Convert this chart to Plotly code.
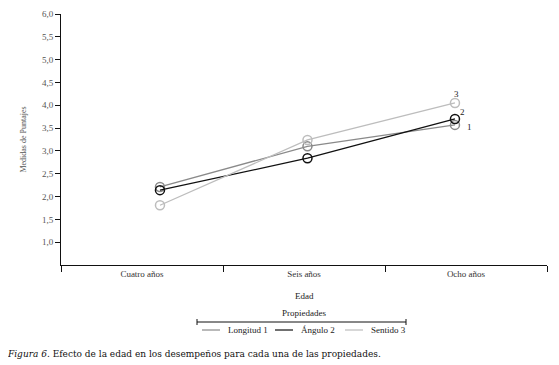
import plotly.graph_objects as go

categories = ["Cuatro años", "Seis años", "Ocho años"]
series_names = ["Longitud 1", "Ángulo 2", "Sentido 3"]
series_tags = ["1", "2", "3"]
longitud = [2.21, 3.10, 3.57]
angulo = [2.14, 2.84, 3.70]
sentido = [1.81, 3.24, 4.05]
y_ticks = [1.0, 1.5, 2.0, 2.5, 3.0, 3.5, 4.0, 4.5, 5.0, 5.5, 6.0]

colors = ["#8a8a8a", "#111111", "#bdbdbd"]
values = [longitud, angulo, sentido]
tag_shift = [(15, -2), (8, 7), (2, 9)]

OFF = 8  # page body margin
W, H = 559 - OFF, 365 - OFF
L, R, T, B = 61 - OFF, 12, 14 - OFF, 100
pw, ph = W - L - R, H - T - B

def px(x):
    return (x - OFF - L) / pw

def py(y):
    return (H - B - (y - OFF)) / ph

FONT = "Liberation Serif, Times New Roman, serif"
CAP_FONT = "DejaVu Serif, serif"

fig = go.Figure()
fig.add_trace(go.Scatter(x=[], y=[], xaxis="x", yaxis="y", showlegend=False, hoverinfo="skip"))
xi = list(range(len(categories)))
for name, vals, col in zip(series_names, values, colors):
    fig.add_trace(go.Scatter(
        x=xi, y=vals, name=name, mode="lines+markers", xaxis="x2", yaxis="y",
        line=dict(color=col, width=1.3),
        marker=dict(symbol="circle-open", size=9, color=col, line=dict(width=1.5, color=col)),
        showlegend=False,
    ))

annotations = []
for tag, vals, (dx, dy) in zip(series_tags, values, tag_shift):
    annotations.append(dict(x=xi[-1], y=vals[-1], xref="x2", yref="y", text=tag,
                            showarrow=False, xshift=dx, yshift=dy,
                            font=dict(family=FONT, size=9, color="#222")))

def label(x, y, text, xanchor="center", size=9, color="#222", family=FONT):
    annotations.append(dict(x=x, y=y, xref="paper", yref="paper", text=text,
                            showarrow=False, xanchor=xanchor, yanchor="middle",
                            font=dict(family=family, size=size, color=color)))

label(px(304), py(296), "Edad")
label(px(304), py(313), "Propiedades")

shapes = []
shapes.append(dict(type="line", xref="paper", yref="paper", x0=px(197), x1=px(406),
                   y0=py(322), y1=py(322), line=dict(color="#111", width=1)))
for xe in (197, 406):
    shapes.append(dict(type="line", xref="paper", yref="paper", x0=px(xe), x1=px(xe),
                       y0=py(319), y1=py(325), line=dict(color="#111", width=1)))
leg_x = [202, 275, 345]
for name, col, lx in zip(series_names, colors, leg_x):
    shapes.append(dict(type="line", xref="paper", yref="paper", x0=px(lx), x1=px(lx + 18),
                       y0=py(330), y1=py(330), line=dict(color=col, width=1.2)))
    label(px(lx + 24), py(330), name, xanchor="left")

label(px(5), py(354),
      "<i>Figura 6.</i> Efecto de la edad en los desempeños para cada una de las propiedades.",
      xanchor="left", size=9.0, color="#111", family=CAP_FONT)

fig.update_layout(
    width=W, height=H,
    margin=dict(l=L, r=R, t=T, b=B, pad=0),
    paper_bgcolor="white", plot_bgcolor="white",
    separators=",.",
    font=dict(family=FONT, size=9, color="#444"),
    xaxis=dict(range=[0, 3], tickvals=[0.5, 1.5, 2.5], ticktext=categories,
               ticks="", showgrid=False, zeroline=False, showline=True,
               linecolor="#111", linewidth=1, automargin=False, fixedrange=True,
               minor=dict(tickmode="array", tickvals=[0, 1, 2, 3], ticks="outside",
                          ticklen=6, tickcolor="#111", tickwidth=1, showgrid=False),
               tickfont=dict(family=FONT, size=9, color="#333")),
    xaxis2=dict(overlaying="x", anchor="y", range=[-0.671, 2.624], visible=False),
    yaxis=dict(range=[0.5, 6.0], tickvals=y_ticks, tickformat=".1f", automargin=False,
               ticks="outside", ticklen=5, tickcolor="#111", showgrid=False,
               zeroline=False, showline=True, linecolor="#111", linewidth=1,
               tickfont=dict(family=FONT, size=9, color="#555"),
               title=dict(text="Medidas de Puntajes", standoff=14,
                          font=dict(family=FONT, size=8, color="#555"))),
    annotations=annotations, shapes=shapes,
)

fig.write_html("out.html")
